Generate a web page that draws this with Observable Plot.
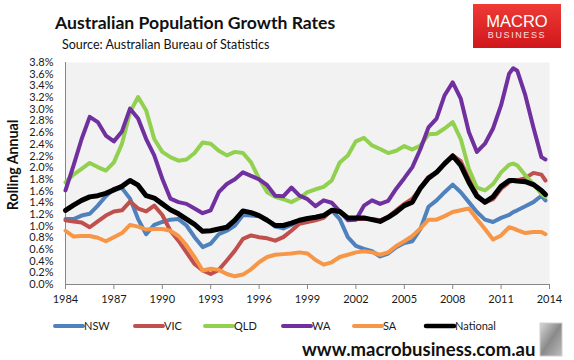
<!DOCTYPE html>
<html>
<head>
<meta charset="utf-8">
<script src="https://cdn.jsdelivr.net/npm/d3@7"></script>
<script src="https://cdn.jsdelivr.net/npm/@observablehq/plot@0.6"></script>
<style>
  html, body { margin: 0; padding: 0; background: #fff; }
  #wrap { position: relative; width: 574px; height: 360px; overflow: hidden; background: #fff; }
  #wrap svg { position: absolute; left: 0; top: 0; }
</style>
</head>
<body>
<div id="wrap"></div>
<script>
// ---------- data ----------
const years = [1984, 1984.5, 1985, 1985.5, 1986, 1986.5, 1987, 1987.5, 1988, 1988.5,
  1989, 1989.5, 1990, 1990.5, 1991, 1991.5, 1992, 1992.5, 1993, 1993.5,
  1994, 1994.5, 1995, 1995.5, 1996, 1996.5, 1997, 1997.5, 1998, 1998.5,
  1999, 1999.5, 2000, 2000.5, 2001, 2001.5, 2002, 2002.5, 2003, 2003.5,
  2004, 2004.5, 2005, 2005.5, 2006, 2006.5, 2007, 2007.5, 2008, 2008.5,
  2009, 2009.5, 2010, 2010.5, 2011, 2011.5, 2011.75, 2012, 2012.5, 2013, 2013.5, 2013.75];

const NSW = [1.12, 1.12, 1.18, 1.21, 1.35, 1.51, 1.64, 1.65, 1.47, 1.12,
  0.86, 1.02, 1.07, 1.11, 1.12, 1.01, 0.81, 0.64, 0.70, 0.86,
  0.92, 1.01, 1.19, 1.18, 1.17, 1.10, 0.99, 0.96, 1.02, 1.08,
  1.10, 1.12, 1.15, 1.27, 1.12, 0.81, 0.66, 0.61, 0.57, 0.48,
  0.53, 0.64, 0.71, 0.74, 0.95, 1.33, 1.44, 1.58, 1.71, 1.58,
  1.41, 1.24, 1.11, 1.07, 1.14, 1.19, 1.24, 1.27, 1.34, 1.41, 1.52, 1.44];

const VIC = [1.10, 1.08, 1.06, 0.98, 1.08, 1.18, 1.25, 1.27, 1.42, 1.30,
  1.25, 1.35, 1.19, 0.92, 0.75, 0.55, 0.35, 0.24, 0.18, 0.25,
  0.41, 0.58, 0.78, 0.84, 0.81, 0.79, 0.75, 0.81, 0.92, 1.04,
  1.07, 1.10, 1.14, 1.27, 1.24, 1.12, 1.12, 1.12, 1.12, 1.10,
  1.16, 1.27, 1.38, 1.47, 1.65, 1.84, 1.92, 2.07, 2.21, 2.11,
  1.81, 1.54, 1.40, 1.46, 1.64, 1.75, 1.78, 1.78, 1.82, 1.91, 1.88, 1.78];

const QLD = [1.75, 1.88, 1.98, 2.08, 2.01, 1.95, 2.09, 2.41, 2.95, 3.21,
  2.98, 2.49, 2.27, 2.18, 2.12, 2.14, 2.25, 2.43, 2.41, 2.29,
  2.21, 2.27, 2.25, 2.09, 1.81, 1.58, 1.50, 1.46, 1.41, 1.48,
  1.58, 1.63, 1.67, 1.78, 2.09, 2.21, 2.45, 2.51, 2.38, 2.32,
  2.25, 2.29, 2.37, 2.31, 2.38, 2.57, 2.58, 2.67, 2.78, 2.49,
  1.98, 1.66, 1.61, 1.72, 1.92, 2.05, 2.07, 2.04, 1.87, 1.72, 1.55, 1.50];

const WA = [1.61, 2.04, 2.49, 2.87, 2.78, 2.55, 2.45, 2.62, 3.01, 2.84,
  2.49, 2.21, 1.81, 1.47, 1.41, 1.38, 1.30, 1.22, 1.27, 1.58,
  1.72, 1.80, 1.92, 1.86, 1.80, 1.70, 1.52, 1.51, 1.66, 1.52,
  1.46, 1.34, 1.44, 1.40, 1.25, 1.10, 1.11, 1.35, 1.44, 1.38,
  1.43, 1.64, 1.82, 2.01, 2.32, 2.69, 2.84, 3.24, 3.46, 3.18,
  2.61, 2.27, 2.41, 2.67, 3.07, 3.61, 3.70, 3.66, 3.24, 2.69, 2.18, 2.14];

const SA = [0.92, 0.82, 0.83, 0.83, 0.80, 0.74, 0.81, 0.88, 1.02, 0.99,
  0.94, 0.95, 0.95, 0.92, 0.83, 0.67, 0.47, 0.24, 0.27, 0.25,
  0.18, 0.14, 0.17, 0.26, 0.38, 0.47, 0.51, 0.52, 0.53, 0.55,
  0.53, 0.42, 0.34, 0.38, 0.47, 0.51, 0.55, 0.57, 0.55, 0.51,
  0.55, 0.66, 0.74, 0.83, 0.96, 1.11, 1.11, 1.17, 1.24, 1.27,
  1.30, 1.12, 0.95, 0.77, 0.84, 0.98, 0.96, 0.93, 0.88, 0.90, 0.90, 0.86];

const National = [1.27, 1.36, 1.44, 1.50, 1.52, 1.56, 1.62, 1.68, 1.78, 1.70,
  1.52, 1.48, 1.38, 1.28, 1.21, 1.12, 1.03, 0.91, 0.92, 0.95,
  0.98, 1.10, 1.26, 1.23, 1.18, 1.10, 1.01, 1.01, 1.05, 1.10,
  1.13, 1.15, 1.18, 1.27, 1.25, 1.14, 1.14, 1.14, 1.11, 1.08,
  1.15, 1.24, 1.35, 1.41, 1.65, 1.82, 1.92, 2.07, 2.20, 2.04,
  1.75, 1.51, 1.41, 1.50, 1.68, 1.78, 1.78, 1.77, 1.76, 1.71, 1.61, 1.54];

const seriesNames = ["NSW", "VIC", "QLD", "WA", "SA", "National"];
const seriesValues = [NSW, VIC, QLD, WA, SA, National];
const seriesColors = ["#4F81BD", "#C0504D", "#92D050", "#7030A0", "#F79646", "#000000"];

const xTicks = [1984, 1987, 1990, 1993, 1996, 1999, 2002, 2005, 2008, 2011, 2014];
const yTicks = [0, 0.2, 0.4, 0.6, 0.8, 1.0, 1.2, 1.4, 1.6, 1.8, 2.0, 2.2, 2.4, 2.6, 2.8, 3.0, 3.2, 3.4, 3.6, 3.8];

const titleText = "Australian Population Growth Rates";
const subtitleText = "Source: Australian Bureau of Statistics";
const yLabelText = "Rolling Annual";
const urlText = "www.macrobusiness.com.au";

// ---------- build ----------
const rows = seriesNames.flatMap((name, i) =>
  years.map((yr, j) => ({ series: name, year: yr, value: seriesValues[i][j] })));

const FONT = "Lato, 'Open Sans', sans-serif";

const chart = Plot.plot({
  width: 574,
  height: 360,
  marginLeft: 65,
  marginRight: 25,
  marginTop: 62,
  marginBottom: 76,
  style: { fontFamily: FONT, fontSize: "11px", color: "#1a1a1a", background: "transparent" },
  x: { domain: [1984, 2014], label: null },
  y: { domain: [0, 3.8], label: null },
  color: { domain: seriesNames, range: seriesColors },
  marks: [
    Plot.frame({ fill: "#f2f2f2", stroke: null }),
    Plot.axisX({ ticks: xTicks, tickFormat: d => String(d), tickSize: 5, tickPadding: 6, stroke: "#868686", label: null, fill: "#1a1a1a" }),
    Plot.axisY({ ticks: yTicks, tickFormat: d => d.toFixed(1) + "%", tickSize: 0, tickPadding: 12, label: null, fill: "#1a1a1a" }),
    Plot.ruleX([1984], { stroke: "#868686" }),
    Plot.ruleY([0], { stroke: "#868686" }),
    Plot.line(rows.filter(d => d.series !== "National"), {
      x: "year", y: "value", z: "series", stroke: "series",
      strokeWidth: 4, strokeLinejoin: "round", strokeLinecap: "round"
    }),
    Plot.line(rows.filter(d => d.series === "National"), {
      x: "year", y: "value", z: "series", stroke: "series",
      strokeWidth: 5, strokeLinejoin: "round", strokeLinecap: "round"
    })
  ]
});

const wrap = document.getElementById("wrap");
wrap.appendChild(chart);

// ---------- overlay: titles, legend, branding ----------
const ov = d3.select(wrap).append("svg")
  .attr("width", 574).attr("height", 360)
  .style("font-family", FONT);

const defs = ov.append("defs");
const lg = defs.append("linearGradient").attr("id", "logoGrad")
  .attr("x1", 0).attr("y1", 0).attr("x2", 0).attr("y2", 1);
lg.append("stop").attr("offset", "0%").attr("stop-color", "#ef3a36");
lg.append("stop").attr("offset", "100%").attr("stop-color", "#d0171c");
const wg = defs.append("linearGradient").attr("id", "wolfGrad")
  .attr("x1", 0).attr("y1", 0).attr("x2", 1).attr("y2", 1);
wg.append("stop").attr("offset", "0%").attr("stop-color", "#d8d8d8");
wg.append("stop").attr("offset", "50%").attr("stop-color", "#8a8a8a");
wg.append("stop").attr("offset", "100%").attr("stop-color", "#bdbdbd");

ov.append("text").attr("x", 55).attr("y", 29)
  .attr("font-size", 17.6).attr("font-weight", 700).attr("fill", "#111")
  .text(titleText);
ov.append("text").attr("x", 62).attr("y", 49)
  .attr("font-size", 12.5).attr("fill", "#111")
  .text(subtitleText);

ov.append("text")
  .attr("transform", "translate(18,165) rotate(-90)")
  .attr("text-anchor", "middle")
  .attr("font-size", 14.2).attr("font-weight", 700).attr("fill", "#111")
  .text(yLabelText);

// logo
ov.append("rect").attr("x", 473).attr("y", 4).attr("width", 88).attr("height", 44)
  .attr("fill", "url(#logoGrad)");
ov.append("text").attr("x", 517).attr("y", 27).attr("text-anchor", "middle")
  .attr("font-family", "'Liberation Sans', Arial, sans-serif")
  .attr("font-size", 16.5).attr("fill", "#fff").text("MACRO");
ov.append("text").attr("x", 517).attr("y", 38).attr("text-anchor", "middle")
  .attr("font-family", "'Liberation Sans', Arial, sans-serif")
  .attr("font-size", 9).attr("letter-spacing", 1.6).attr("fill", "#fbe0e0").text("BUSINESS");

// legend
const legendX = [55, 135, 205, 283, 354, 426];
const legend = ov.append("g");
seriesNames.forEach((name, i) => {
  const g = legend.append("g").attr("transform", `translate(${legendX[i]},326)`);
  g.append("line").attr("x1", 0).attr("x2", 28).attr("y1", 0).attr("y2", 0)
    .attr("stroke", seriesColors[i]).attr("stroke-width", name === "National" ? 4.5 : 4)
    .attr("stroke-linecap", "round");
  g.append("text").attr("x", 29).attr("y", 0).attr("dy", "0.35em")
    .attr("font-size", 11).attr("fill", "#1a1a1a").text(name);
});

// url
ov.append("text").attr("x", 302).attr("y", 356)
  .attr("font-size", 18.5).attr("font-weight", 700).attr("fill", "#111")
  .text(urlText);

// wolf picture placeholder
ov.append("rect").attr("x", 540).attr("y", 323).attr("width", 22).attr("height", 33)
  .attr("fill", "url(#wolfGrad)").attr("stroke", "#cfcfcf");
</script>
</body>
</html>
